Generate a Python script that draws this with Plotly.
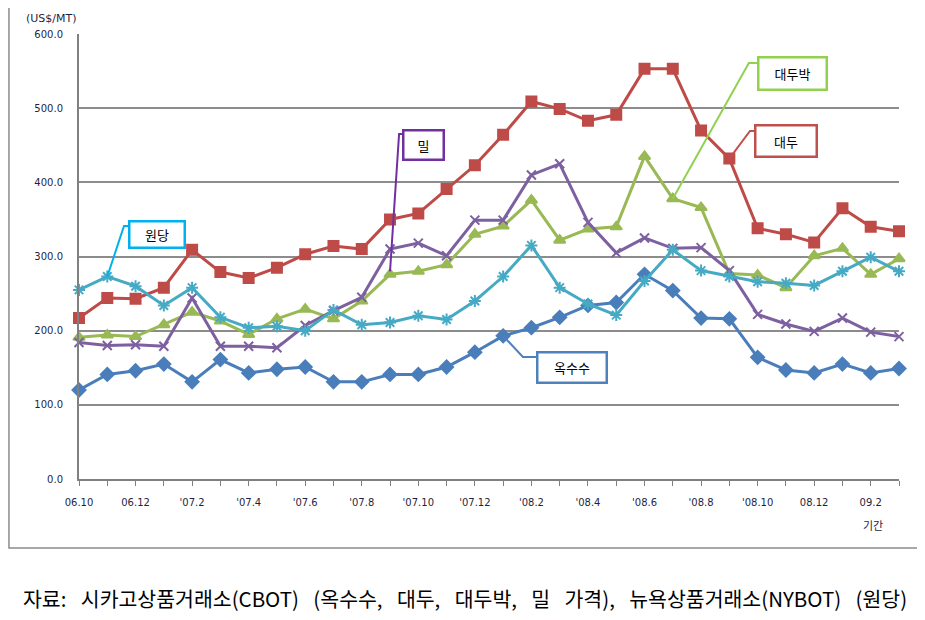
import plotly.graph_objects as go

months = ["06.10", "06.11", "06.12", "07.1", "07.2", "07.3", "07.4", "07.5", "07.6", "07.7",
          "07.8", "07.9", "07.10", "07.11", "07.12", "08.1", "08.2", "08.3", "08.4", "08.5",
          "08.6", "08.7", "08.8", "08.9", "08.10", "08.11", "08.12", "09.1", "09.2", "09.3"]
tick_labels = ["06.10", "", "06.12", "", "'07.2", "", "'07.4", "", "'07.6", "",
               "'07.8", "", "'07.10", "", "'07.12", "", "'08.2", "", "'08.4", "",
               "'08.6", "", "'08.8", "", "'08.10", "", "08.12", "", "09.2", ""]

corn = [120, 141, 146, 155, 131, 161, 143, 148, 151, 131,
        131, 141, 141, 151, 171, 193, 204, 218, 234, 238,
        276, 254, 217, 216, 164, 147, 143, 155, 143, 149]
soybean = [217, 244, 243, 258, 309, 279, 271, 285, 303, 314,
           310, 350, 358, 391, 423, 464, 509, 499, 483, 491,
           553, 553, 470, 432, 338, 330, 319, 365, 340, 334]
soymeal = [191, 194, 192, 208, 225, 213, 195, 216, 229, 216,
           240, 276, 280, 289, 330, 341, 376, 322, 337, 340,
           435, 378, 366, 277, 275, 258, 301, 311, 276, 297]
wheat = [184, 180, 181, 179, 244, 179, 179, 177, 207, 227,
         245, 310, 318, 301, 349, 349, 410, 425, 346, 305,
         325, 311, 312, 281, 222, 209, 199, 217, 198, 192]
sugar = [255, 273, 260, 234, 258, 218, 204, 206, 200, 228,
         208, 211, 220, 215, 240, 273, 315, 258, 236, 221,
         267, 309, 281, 273, 266, 264, 261, 280, 299, 280]

names = ["옥수수", "대두", "대두박", "밀", "원당"]
series = [corn, soybean, soymeal, wheat, sugar]
colors = ["#4A7EBB", "#BE4B48", "#98B954", "#7D60A0", "#46AAC5"]
symbols = ["diamond", "square", "triangle-up", "x-thin-open", "asterisk-open"]
msizes = [10, 10, 10, 9, 10]

x = list(range(len(months)))

fig = go.Figure()
for nm, ys, c, sym, ms in zip(names, series, colors, symbols, msizes):
    fig.add_trace(go.Scatter(
        x=x, y=ys, name=nm, mode="lines+markers", cliponaxis=False,
        line=dict(color=c, width=3),
        marker=dict(symbol=sym, size=ms, color=c, line=dict(color=c, width=2)),
        hovertext=months,
    ))

font_tick = dict(family="DejaVu Sans", size=10, color="#1F1F3F")

fig.update_layout(
    width=925, height=620,
    margin=dict(l=71, r=34, t=26, b=149),
    paper_bgcolor="white", plot_bgcolor="white",
    showlegend=False,
    xaxis=dict(
        range=[0, 29], tickmode="array", tickvals=x, ticktext=tick_labels,
        showgrid=False, zeroline=False,
        showline=True, linecolor="#808080", linewidth=2,
        ticks="outside", ticklen=5, tickcolor="#808080", tickwidth=1,
        tickfont=font_tick, ticklabelstandoff=8,
    ),
    yaxis=dict(
        range=[0, 600], dtick=100, tickformat=".1f",
        showgrid=True, gridcolor="#8C8C8C", gridwidth=2,
        zeroline=False, showline=True, linecolor="#808080", linewidth=2,
        ticks="", tickfont=font_tick, ticklabelstandoff=12,
    ),
)

# outer chart frame
fig.add_shape(type="rect", xref="paper", yref="paper",
              x0=-0.0854, x1=1.0232, y0=-0.155, y1=1.0607,
              line=dict(color="#8C8C8C", width=1.5), layer="below")

# callouts
callouts = [
    ("원당", "#00B0F0", (2.741, 330.3), 55, 26, [(1.768, 341.1), (1.591, 341.1), (1, sugar[1])]),
    ("밀", "#7030A0", (12.166, 451.0), 40, 29, [(11.46, 465.2), (11.32, 465.2), (11, 280)]),
    ("대두박", "#92D050", (25.25, 546.1), 68, 32, [(24.05, 560.9), (23.69, 560.9), (21, soymeal[21])]),
    ("대두", "#C0504D", (25.02, 455.1), 61, 31, [(23.94, 469.2), (23.73, 469.2), (23, soybean[23])]),
    ("옥수수", "#4F81BD", (17.42, 151.0), 69, 30, [(16.2, 164.5), (15.70, 164.5), (15, corn[15])]),
]
for txt, col, (cx, cy), w, h, pts in callouts:
    path = "M " + " L ".join(f"{px},{py}" for px, py in pts)
    fig.add_shape(type="path", xref="x", yref="y", path=path,
                  line=dict(color=col, width=2))
    fig.add_annotation(x=cx, y=cy, xref="x", yref="y", text=txt, showarrow=False,
                       xanchor="center", yanchor="middle",
                       width=w - 4, height=h - 4, borderpad=1,
                       bgcolor="white", bordercolor=col, borderwidth=2.5,
                       font=dict(family="Noto Sans CJK KR", size=13, color="black"))

# unit label
fig.add_annotation(xref="paper", yref="paper", x=-0.033, y=1.034, text="(US$/MT)",
                   showarrow=False, xanchor="center", yanchor="middle",
                   font=dict(family="DejaVu Sans", size=11, color="#1F1F3F"))
# x-axis title
fig.add_annotation(xref="paper", yref="paper", x=0.9683, y=-0.103, text="기간",
                   showarrow=False, xanchor="center", yanchor="middle",
                   font=dict(family="Noto Sans CJK KR", size=11, color="#1F1F3F"))
# source caption
sp = "\u2002\u2009"
caption = sp.join(["자료:", "시카고상품거래소(CBOT)", "(옥수수,", "대두,", "대두박,", "밀", "가격),",
                   "뉴욕상품거래소(NYBOT)", "(원당)"])
fig.add_annotation(xref="paper", yref="paper", x=0.4707, y=-0.2674,
                   text=caption,
                   showarrow=False, xanchor="center", yanchor="middle",
                   font=dict(family="Noto Sans CJK KR", size=20.5, color="black"))

fig.write_html("out.html")
